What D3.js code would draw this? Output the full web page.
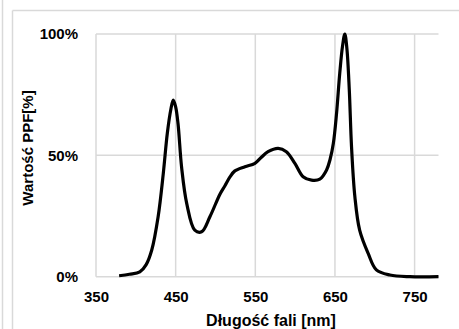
<!DOCTYPE html>
<html><head><meta charset="utf-8">
<script src="https://cdn.jsdelivr.net/npm/d3@7"></script>
<style>html,body{margin:0;padding:0;background:#fff;}svg{display:block;}</style>
</head><body>
<script>
const wavelengths = [379,392,405,413,420,428,434.5,439.5,444,447,450,453,457.5,464,474,482.6,493,505.6,511.9,518,524,537,549.5,557,566,578.7,589,599.7,610,620.6,631,639.5,644,648,652,656,659.5,662.4,665,668,670.8,675,681,691.7,702,719,744,780];
const ppf = [0.4,1,2,5,11,24.7,42.6,59,69,72.8,70,63,45,30,19.2,18.5,24.7,34,37.5,41,43.5,45.3,46.7,49,51.5,52.9,51.5,46.7,41.2,39.8,40.2,44,48.5,55,67.3,83.8,95,100,94,77,53.6,33,19.2,9.6,2.8,0.7,0,0];
const xTicks = [350,450,550,650,750];
const yTicks = [0,50,100];
const xTitle = "Długość fali [nm]";
const yTitle = "Wartość PPF[%]";

const W=459,H=329;
const svg=d3.select("body").append("svg").attr("width",W).attr("height",H);
const grid="#d9d9d9";
const font="'Liberation Sans',Arial,sans-serif";
// frame lines
svg.append("line").attr("x1",2.5).attr("x2",2.5).attr("y1",0).attr("y2",H).attr("stroke",grid).attr("stroke-width",1.5);
svg.append("line").attr("x1",12.5).attr("x2",12.5).attr("y1",10.5).attr("y2",H).attr("stroke",grid).attr("stroke-width",1.5);
svg.append("line").attr("x1",12.5).attr("x2",W).attr("y1",10.5).attr("y2",10.5).attr("stroke",grid).attr("stroke-width",1.5);

const x=d3.scaleLinear().domain([350,780]).range([96,438.5]);
const y=d3.scaleLinear().domain([0,100]).range([276.7,34]);

// gridlines
svg.append("g").selectAll("line").data(yTicks).join("line")
 .attr("x1",x(350)).attr("x2",x(780)).attr("y1",d=>y(d)).attr("y2",d=>y(d))
 .attr("stroke",grid).attr("stroke-width",1.5);
svg.append("g").selectAll("line").data(xTicks).join("line")
 .attr("x1",d=>x(d)).attr("x2",d=>x(d)).attr("y1",y(0)).attr("y2",y(100))
 .attr("stroke",grid).attr("stroke-width",1.5);

// axes labels via d3 axes
const xAxis=svg.append("g").attr("transform",`translate(0,${y(0)})`)
 .call(d3.axisBottom(x).tickValues(xTicks).tickSize(0).tickPadding(15).tickFormat(d3.format("d")));
const yAxis=svg.append("g").attr("transform",`translate(${x(350)},0)`)
 .call(d3.axisLeft(y).tickValues(yTicks).tickSize(0).tickPadding(18).tickFormat(d=>d+"%"));
[xAxis,yAxis].forEach(g=>{g.select(".domain").remove();
 g.selectAll("text").attr("font-family",font).attr("font-weight","bold").attr("font-size",15).attr("fill","#000");});

// line
const line=d3.line().x((d,i)=>x(wavelengths[i])).y(d=>y(d)).curve(d3.curveCatmullRom.alpha(0.5));
svg.append("path").datum(ppf).attr("d",line).attr("fill","none").attr("stroke","#000").attr("stroke-width",3.2).attr("stroke-linejoin","round");

// titles
svg.append("text").attr("x",271).attr("y",322).attr("text-anchor","middle").attr("dominant-baseline","middle")
 .attr("font-family",font).attr("font-weight","bold").attr("font-size",16).text(xTitle);
svg.append("text").attr("transform","translate(29,148) rotate(-90)").attr("text-anchor","middle").attr("dominant-baseline","middle")
 .attr("font-family",font).attr("font-weight","bold").attr("font-size",15).text(yTitle);
</script>
</body></html>
